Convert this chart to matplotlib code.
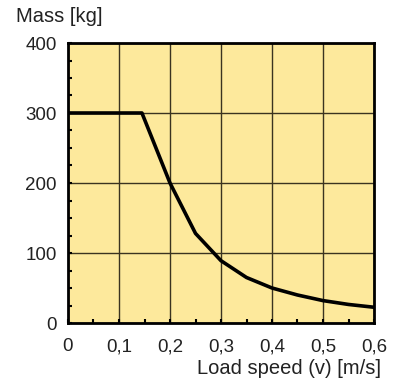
import matplotlib
matplotlib.use('Agg')
import matplotlib.pyplot as plt
from matplotlib.ticker import MultipleLocator, FuncFormatter

plt.rcParams['font.family'] = ['Liberation Sans', 'DejaVu Sans']

# 读取的数据
speed = [0, 0.145, 0.2, 0.25, 0.3, 0.35, 0.4, 0.45, 0.5, 0.55, 0.6]
mass = [300, 300, 200, 128, 89, 65, 50, 40, 32, 26.5, 22.5]
xticks = [0, 0.1, 0.2, 0.3, 0.4, 0.5, 0.6]
yticks = [0, 100, 200, 300, 400]

fig = plt.figure(figsize=(4.06, 3.8), dpi=100)
ax = fig.add_axes([68/406, 57/380, 306/406, 280/380])
ax.set_facecolor('#fde99c')

ax.plot(speed, mass, color='black', lw=2.6, solid_joinstyle='round', zorder=3)

ax.set_xlim(0, 0.6)
ax.set_ylim(0, 400)
ax.set_xticks(xticks)
ax.set_yticks(yticks)
ax.xaxis.set_minor_locator(MultipleLocator(0.05))
ax.yaxis.set_minor_locator(MultipleLocator(25))
ax.xaxis.set_major_formatter(FuncFormatter(lambda v, p: ('%g' % round(v, 2)).replace('.', ',')))
ax.grid(True, which='major', color='#3a3320', lw=1)
ax.tick_params(which='both', direction='in', length=3, width=1.5, colors='black',
               labelcolor='#222222', labelsize=13.5)
ax.tick_params(axis='x', which='major', pad=11)
ax.tick_params(axis='y', which='major', pad=8)
for s in ax.spines.values():
    s.set_linewidth(2)

fig.text(16/406, 1 - 16/380, 'Mass [kg]', fontsize=14.5, color='#222222', va='center', ha='left')
fig.text(381/406, 1 - 368/380, 'Load speed (v) [m/s]', fontsize=14.5, color='#222222',
         va='center', ha='right')

fig.savefig('out.png', dpi=100)
